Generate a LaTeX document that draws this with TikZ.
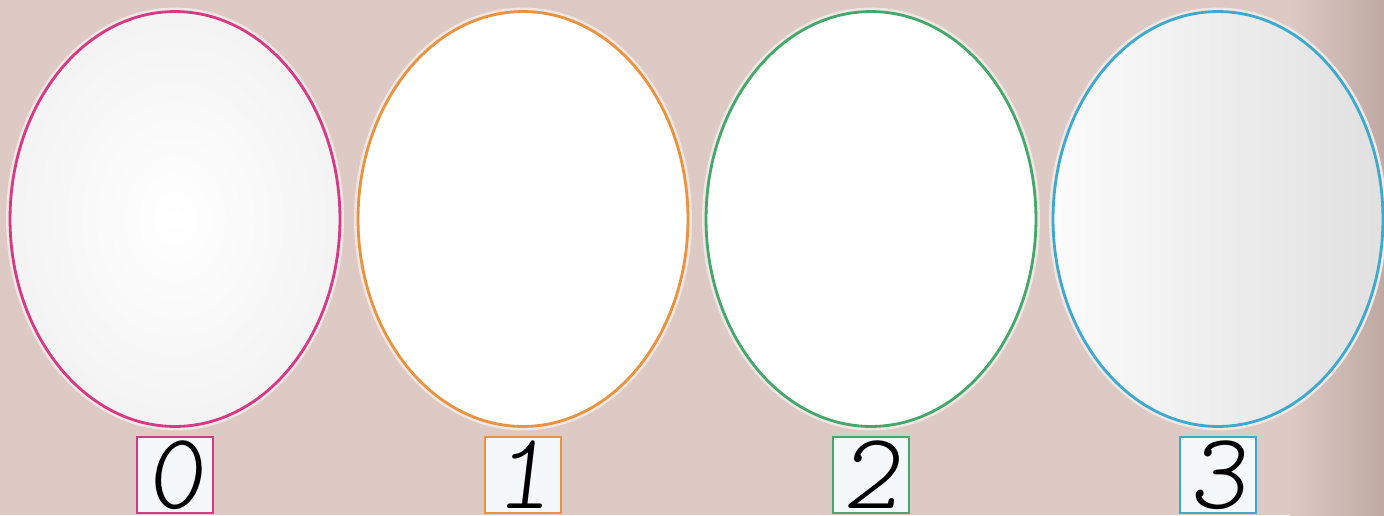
\documentclass[tikz,border=0pt]{standalone}
\usepackage{fontspec}
\usetikzlibrary{positioning, shapes.geometric}
\newfontfamily\handfont{lmmonolt10-regular.otf}[FakeSlant=0.12]
\definecolor{bgpink}{HTML}{DDCAC5}
\definecolor{bgdark}{HTML}{BFA8A2}
\definecolor{eggmagenta}{HTML}{D63A85}
\definecolor{eggorange}{HTML}{E9933F}
\definecolor{egggreen}{HTML}{44A86C}
\definecolor{eggcyan}{HTML}{3DAACD}
\definecolor{boxfill}{HTML}{F4F8FA}

\begin{document}
\begin{tikzpicture}[x=0.02cm, y=-0.02cm,
  egg/.style={draw, ellipse, line width=1.6pt, minimum width=6.6cm, minimum height=8.3cm, inner sep=0pt,
    preaction={draw=white!55!bgpink, line width=4.5pt}},
  numbox/.style={draw, line width=1.1pt, fill=boxfill, minimum size=1.52cm, inner sep=0pt,
    font=\fontsize{62}{62}\selectfont\handfont}]
  \useasboundingbox (0,0) rectangle (1384,515);
  % background
  \fill[bgpink] (0,0) rectangle (1384,515);
  \shade[left color=bgpink, right color=bgdark] (1290,0) rectangle (1384,515);

  % eggs
  \node[egg, draw=eggmagenta, inner color=white, outer color=gray!9] (egg0) at (175,219) {};
  \node[egg, draw=eggorange, fill=white] (egg1) at (523,219) {};
  \node[egg, draw=egggreen, fill=white] (egg2) at (871,219) {};
  \node[egg, draw=eggcyan, left color=white!97!gray, middle color=white!97!gray, right color=gray!24] (egg3) at (1218,219) {};

  % numbers
  \node[numbox, draw=eggmagenta, below=0.16cm of egg0] (num0) {0};
  \node[numbox, draw=eggorange, below=0.16cm of egg1] (num1) {1};
  \node[numbox, draw=egggreen, below=0.16cm of egg2] (num2) {2};
  \node[numbox, draw=eggcyan, below=0.16cm of egg3] (num3) {3};
\end{tikzpicture}
\end{document}
